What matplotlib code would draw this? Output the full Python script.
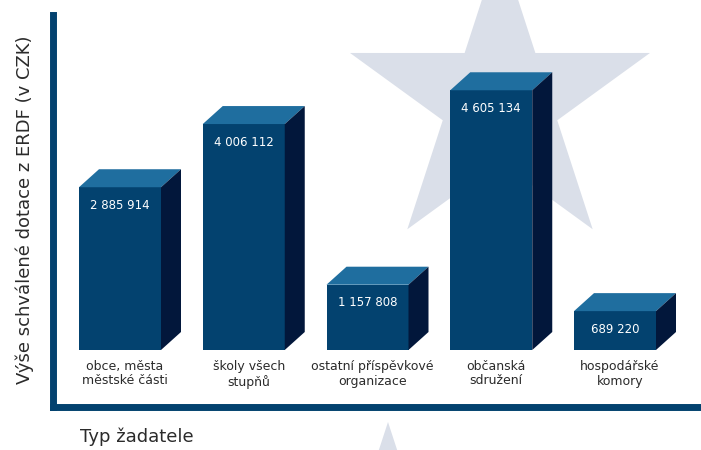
import matplotlib
matplotlib.use("Agg")
import matplotlib.pyplot as plt
import numpy as np
from matplotlib.patches import Polygon

plt.rcParams['font.family'] = ['DejaVu Sans']

# data
categories = ["obce, města\nměstské části", "školy všech\nstupňů",
              "ostatní příspěvkové\norganizace", "občanská\nsdružení",
              "hospodářské\nkomory"]
values = [2885914, 4006112, 1157808, 4605134, 689220]
value_labels = ["2 885 914", "4 006 112", "1 157 808", "4 605 134", "689 220"]

# colours
c_front = "#03426f"
c_top = "#1f6e9f"
c_side = "#02173b"
c_star = "#dadfe9"
c_text = "#2b2b2b"

W, H = 701, 450
fig = plt.figure(figsize=(W / 100, H / 100), dpi=100)

# background decoration (stars) in pixel space
bg = fig.add_axes([0, 0, 1, 1], zorder=0)
bg.set_xlim(0, W)
bg.set_ylim(H, 0)
bg.axis("off")


def star(cx, cy, R, r):
    pts = []
    for i in range(10):
        a = np.radians(90 + 36 * i)
        rad = R if i % 2 == 0 else r
        pts.append((cx + rad * np.cos(a), cy - rad * np.sin(a)))
    return pts


bg.add_patch(Polygon(star(500, 101.7, 157.7, 60.2), color=c_star, lw=0))
bg.add_patch(Polygon(star(388, 482, 60, 23), color=c_star, lw=0))

# main axes
px_x = 123.75      # pixels per category step
px_y = 56.4e-6     # pixels per CZK
base_px = 350      # pixel row of zero
ax_left, ax_bottom, ax_top = 52.5, 406.5, 15
ax = fig.add_axes([ax_left / W, (H - ax_bottom) / H,
                   (W - ax_left) / W, (ax_bottom - ax_top) / H], zorder=1)
ax.patch.set_alpha(0)
x0 = -(120 - ax_left) / px_x
ax.set_xlim(x0, x0 + (W - ax_left) / px_x)
ax.set_ylim(-(ax_bottom - base_px) / px_y, (base_px - ax_top) / px_y)

for s in ["top", "right"]:
    ax.spines[s].set_visible(False)
for s in ["left", "bottom"]:
    ax.spines[s].set_color(c_front)
    ax.spines[s].set_linewidth(5)
ax.set_xticks([])
ax.set_yticks([])

xs = np.arange(len(values))
w = 82 / px_x
dx = 20 / px_x
dy = 18 / px_y

ax.bar(xs, values, width=w, color=c_front, linewidth=0, zorder=3)
for x, v in zip(xs, values):
    l, r = x - w / 2, x + w / 2
    ax.fill([l, r, r + dx, l + dx], [v, v, v + dy, v + dy], color=c_top, lw=0, zorder=3)
    ax.fill([r, r + dx, r + dx, r], [0, dy, v + dy, v], color=c_side, lw=0, zorder=3)

for x, v, t in zip(xs, values, value_labels):
    ax.text(x, v - 18 / px_y, t, color="white", fontsize=8.5,
            ha="center", va="center", zorder=4)

for x, c in zip(xs, categories):
    ax.text(x + 0.04, -10 / px_y, c, color=c_text, fontsize=9,
            ha="center", va="top", linespacing=1.15, zorder=4)

fig.text(25 / W, 1 - 210 / H, "Výše schválené dotace z ERDF (v CZK)",
         rotation=90, ha="center", va="center", fontsize=13, color=c_text)
fig.text(80 / W, 1 - 437 / H, "Typ žadatele", ha="left", va="center",
         fontsize=13, color=c_text)

fig.savefig("out.png", dpi=100)
